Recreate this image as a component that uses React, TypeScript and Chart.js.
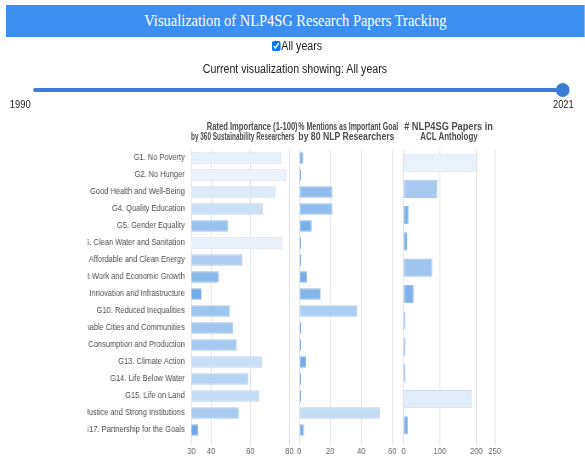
import React, { useEffect, useRef } from 'react';
import { Chart, registerables } from 'chart.js';

Chart.register(...registerables);

const pageTitle = 'Visualization of NLP4SG Research Papers Tracking';
const checkboxLabel = 'All years';
const statusText = 'Current visualization showing: All years';
const yearStart = '1990';
const yearEnd = '2021';

const goals = [
  'G1. No Poverty',
  'G2. No Hunger',
  'G3. Good Health and Well-Being',
  'G4. Quality Education',
  'G5. Gender Equality',
  'G6. Clean Water and Sanitation',
  'G7. Affordable and Clean Energy',
  'G8. Decent Work and Economic Growth',
  'G9. Industry, Innovation and Infrastructure',
  'G10. Reduced Inequalities',
  'G11. Sustainable Cities and Communities',
  'G12. Responsible Consumption and Production',
  'G13. Climate Action',
  'G14. Life Below Water',
  'G15. Life on Land',
  'G16. Peace, Justice and Strong Institutions',
  'G17. Partnership for the Goals',
];

const ratedImportance = [76.0, 78.4, 72.9, 66.3, 48.6, 76.5, 56.0, 44.0, 35.1, 49.6, 51.2, 53.1, 65.9, 59.1, 64.5, 54.1, 33.4];
const nlpMentions = [2.5, 0.6, 21.25, 21.25, 8.0, 0.7, 0.7, 5.0, 13.75, 37.5, 0.8, 1.0, 4.4, 0.6, 0.6, 52.0, 3.0];

const paperGoals = [
  'G3. Good Health and Well-Being',
  'G4. Quality Education',
  'G5. Gender Equality',
  'G8. Decent Work and Economic Growth',
  'G10. Reduced Inequalities',
  'G9. Industry, Innovation and Infrastructure',
  'G13. Climate Action',
  'G11. Sustainable Cities and Communities',
  'G1. No Poverty',
  'G16. Peace, Justice and Strong Institutions',
  'G17. Partnership for the Goals',
];
const paperCounts = [200, 93, 14, 10, 79, 28, 3, 2.5, 2.5, 188, 12];

const ratedTicks = [30, 40, 60, 80];
const mentionTicks = [0, 20, 40, 60];
const paperTicks = [0, 100, 200, 250];

// colour-scale domains (low value = dark blue, high value = pale blue)
const ratedColorDomain = [33, 78];
const mentionColorDomain = [0, 75];
const paperColorDomain = [0, 205];

const ratedTitle = ['Rated Importance (1-100)', 'by 360 Sustainability Researchers'];
const mentionTitle = ['% Mentions as Important Goal', 'by 80 NLP Researchers'];
const paperTitle = ['# NLP4SG Papers in', 'ACL Anthology'];

const FONT = '"Liberation Sans", Arial, Helvetica, sans-serif';
const SQUISH = 0.85;
const GRID = 'rgba(0,0,0,0.12)';
const DARK = [108, 168, 232];
const LIGHT = [236, 243, 251];
const EDGE = [185, 195, 208];

function mixColor(v: number, lo: number, hi: number) {
  const t = Math.max(0, Math.min(1, (v - lo) / (hi - lo)));
  return DARK.map((d, i) => d + (LIGHT[i] - d) * t);
}
function shade(v: number, lo: number, hi: number) {
  const c = mixColor(v, lo, hi).map(Math.round);
  return `rgb(${c[0]},${c[1]},${c[2]})`;
}
function edge(v: number, lo: number, hi: number) {
  const c = mixColor(v, lo, hi).map((x, i) => Math.round(x * 0.6 + EDGE[i] * 0.4));
  return `rgb(${c[0]},${c[1]},${c[2]})`;
}

type PanelCfg = {
  labels: string[];
  values: number[];
  min: number;
  max: number;
  ticks: number[];
  colorDomain: number[];
  showY: boolean;
  yWidth: number;
  padL: number;
  padR: number;
  barPct: number;
};

function buildChart(canvas: HTMLCanvasElement, cfg: PanelCfg) {
  const [lo, hi] = cfg.colorDomain;
  return new Chart(canvas, {
    type: 'bar',
    data: {
      labels: cfg.labels,
      datasets: [
        {
          data: cfg.values,
          backgroundColor: cfg.values.map((v) => shade(v, lo, hi)),
          borderColor: cfg.values.map((v) => edge(v, lo, hi)),
          borderWidth: 1,
          borderSkipped: false,
          minBarLength: 2,
          barPercentage: cfg.barPct,
          categoryPercentage: 0.8,
        },
      ],
    },
    options: {
      indexAxis: 'y',
      responsive: false,
      maintainAspectRatio: false,
      animation: false,
      layout: { padding: { left: cfg.padL, right: cfg.padR, top: 4.5, bottom: 0 } },
      plugins: { legend: { display: false }, tooltip: { enabled: false }, title: { display: false } },
      scales: {
        x: {
          type: 'linear',
          min: cfg.min,
          max: cfg.max,
          afterBuildTicks: (s: any) => {
            s.ticks = cfg.ticks.map((v) => ({ value: v }));
          },
          afterFit: (s: any) => {
            s.height = 18.5;
            s.paddingLeft = 0;
            s.paddingRight = 0;
          },
          grid: { color: GRID, lineWidth: 1, drawTicks: true, tickLength: 7 },
          border: { display: false },
          ticks: { color: '#666', font: { family: FONT, size: 9 }, padding: 1, maxRotation: 0, autoSkip: false },
        },
        y: {
          display: cfg.showY,
          afterFit: (s: any) => {
            s.width = cfg.yWidth;
            s.paddingTop = 0;
            s.paddingBottom = 0;
          },
          grid: { display: false, drawTicks: false },
          border: { display: false },
          ticks: { color: '#4d4d4d', font: { family: FONT, size: 8.8 }, padding: 8, autoSkip: false },
        },
      },
    } as any,
  });
}

export default function App() {
  const c1 = useRef<HTMLCanvasElement>(null);
  const c2 = useRef<HTMLCanvasElement>(null);
  const c3 = useRef<HTMLCanvasElement>(null);

  useEffect(() => {
    const charts: Chart[] = [];
    if (c1.current)
      charts.push(
        buildChart(c1.current, {
          labels: goals, values: ratedImportance, min: 30, max: 80, ticks: ratedTicks, colorDomain: ratedColorDomain,
          showY: true, yWidth: 122.3, padL: 0, padR: 6.4, barPct: 0.83,
        })
      );
    if (c2.current)
      charts.push(
        buildChart(c2.current, {
          labels: goals, values: nlpMentions, min: 0, max: 60, ticks: mentionTicks, colorDomain: mentionColorDomain,
          showY: false, yWidth: 0, padL: 7.1, padR: 7.5, barPct: 0.83,
        })
      );
    if (c3.current)
      charts.push(
        buildChart(c3.current, {
          labels: paperGoals, values: paperCounts, min: 0, max: 250, ticks: paperTicks, colorDomain: paperColorDomain,
          showY: false, yWidth: 0, padL: 7.7, padR: 9, barPct: 0.87,
        })
      );
    return () => charts.forEach((c) => c.destroy());
  }, []);

  const titleStyle: React.CSSProperties = {
    fontFamily: FONT,
    fontWeight: 'bold',
    fill: '#4d4d4d',
  };

  return (
    <div
      style={{
        position: 'absolute', left: 0, top: 0, width: 688, height: 457,
        transform: `scaleX(${SQUISH})`, transformOrigin: '0 0', fontFamily: FONT, color: '#222',
        overflow: 'hidden',
      }}
    >
      <div
        style={{
          position: 'absolute', left: 7, top: 5, width: 681, height: 32, background: 'rgb(62,142,242)',
          color: '#fff', display: 'flex', alignItems: 'center', justifyContent: 'center',
          fontFamily: '"Liberation Serif", "Times New Roman", serif', fontSize: 17,
        }}
      >
        <span>{pageTitle}</span>
      </div>
      <input
        type="checkbox"
        checked
        readOnly
        style={{ position: 'absolute', left: 319.5, top: 41, width: 10, height: 10, margin: 0 }}
      />
      <div style={{ position: 'absolute', left: 331, top: 39, fontSize: 12.5, lineHeight: '14px' }}>{checkboxLabel}</div>
      <div style={{ position: 'absolute', left: 0, width: 694, top: 62, textAlign: 'center', fontSize: 12.5, lineHeight: '14px' }}>
        {statusText}
      </div>
      <div style={{ position: 'absolute', left: 39, top: 88, width: 623, height: 4, borderRadius: 2, background: 'rgb(58,124,215)' }} />
      <div style={{ position: 'absolute', left: 653.8, top: 83, width: 16.5, height: 14, borderRadius: '50%', background: 'rgb(58,124,215)' }} />
      <div style={{ position: 'absolute', left: 11.5, top: 97.5, fontSize: 11, lineHeight: '13px' }}>{yearStart}</div>
      <div style={{ position: 'absolute', left: 650.5, top: 97.5, fontSize: 11, lineHeight: '13px' }}>{yearEnd}</div>

      <svg style={{ position: 'absolute', left: 0, top: 0 }} width={688} height={150}>
        <text x={243.2} y={130} fontSize={10} textLength={107} lengthAdjust="spacingAndGlyphs" style={titleStyle}>{ratedTitle[0]}</text>
        <text x={224.7} y={140.5} fontSize={10} textLength={122} lengthAdjust="spacingAndGlyphs" style={titleStyle}>{ratedTitle[1]}</text>
        <text x={351} y={130} fontSize={10} textLength={117.6} lengthAdjust="spacingAndGlyphs" style={titleStyle}>{mentionTitle[0]}</text>
        <text x={351} y={140.5} fontSize={10.5} textLength={113} lengthAdjust="spacingAndGlyphs" style={titleStyle}>{mentionTitle[1]}</text>
        <text x={475.5} y={130} fontSize={10} textLength={104.5} lengthAdjust="spacingAndGlyphs" style={titleStyle}>{paperTitle[0]}</text>
        <text x={494.5} y={140.5} fontSize={10} textLength={67.5} lengthAdjust="spacingAndGlyphs" style={titleStyle}>{paperTitle[1]}</text>
      </svg>

      <canvas ref={c1} width={244} height={312} style={{ position: 'absolute', left: 103, top: 145, width: 244, height: 312 }} />
      <canvas ref={c2} width={124} height={312} style={{ position: 'absolute', left: 345, top: 145, width: 124, height: 312 }} />
      <canvas ref={c3} width={124} height={312} style={{ position: 'absolute', left: 467, top: 145, width: 124, height: 312 }} />
    </div>
  );
}
